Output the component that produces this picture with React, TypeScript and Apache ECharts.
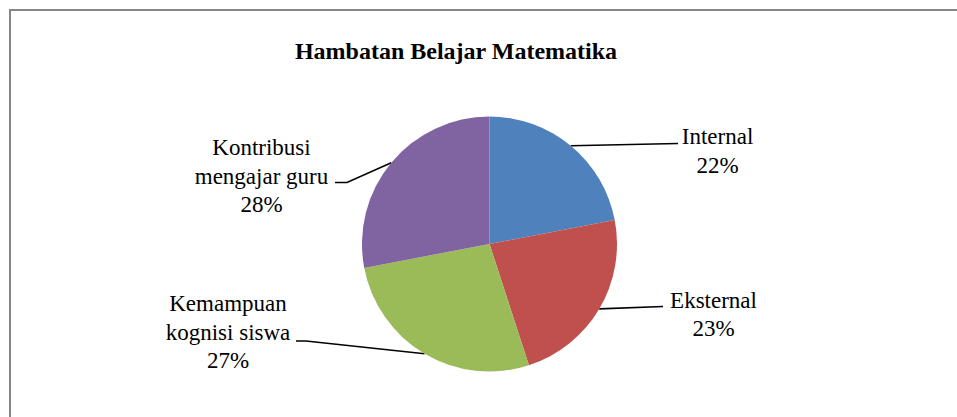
import React, { useEffect, useRef } from "react";
import * as echarts from "echarts";

const titleText = "Hambatan Belajar Matematika";
const categories = [
  "Internal",
  "Eksternal",
  "Kemampuan\nkognisi siswa",
  "Kontribusi\nmengajar guru",
];
const values = [22, 23, 27, 28];
const colors = ["#4F81BD", "#C0504D", "#9BBB59", "#8064A2"];

// label placement (layout only): text block centre, and leader line end / bend x
const labelCenters = [
  [717.5, 151],
  [713.5, 314.5],
  [228, 332],
  [261.5, 176],
];
const leaderEnds = [
  [678, 143.5, 678],
  [663, 306.5, 663],
  [296, 341, 306],
  [335, 182.5, 347],
];

const FONT = "Liberation Serif";

export default function App() {
  const ref = useRef<HTMLDivElement>(null);
  useEffect(() => {
    if (!ref.current) return;
    const chart = echarts.init(ref.current, undefined, { renderer: "svg" });
    chart.setOption({
      animation: false,
      backgroundColor: "#ffffff",
      textStyle: { fontFamily: FONT },
      title: {
        text: titleText,
        left: 451,
        top: 34,
        textAlign: "center",
        textStyle: {
          fontFamily: FONT,
          fontSize: 24,
          fontWeight: "bold",
          color: "#000000",
        },
      },
      graphic: [
        {
          type: "rect",
          shape: { x: 10, y: 10, width: 1200, height: 1000 },
          style: { fill: "none", stroke: "#868686", lineWidth: 2 },
          silent: true,
        },
      ],
      series: [
        {
          type: "pie",
          center: [489.5, 244],
          radius: 127.5,
          startAngle: 90,
          clockwise: true,
          avoidLabelOverlap: false,
          percentPrecision: 0,
          itemStyle: { borderWidth: 0 },
          label: {
            show: true,
            position: "outside",
            formatter: "{b}\n{d}%",
            fontFamily: FONT,
            fontSize: 23,
            lineHeight: 28.4,
            color: "#000000",
            align: "center",
          },
          labelLine: {
            show: true,
            length: 10,
            length2: 10,
            lineStyle: { color: "#000000", width: 1.6 },
          },
          labelLayout: (params: any) => {
            const i = params.dataIndex;
            const c = labelCenters[i];
            const e = leaderEnds[i];
            const pts = params.labelLinePoints;
            const start = pts && pts[0] ? pts[0] : [e[2], e[1]];
            return {
              x: c[0],
              y: c[1],
              align: "center",
              verticalAlign: "middle",
              labelLinePoints: [
                [start[0], start[1]],
                [e[2], e[1]],
                [e[0], e[1]],
              ],
            };
          },
          data: categories.map((name, i) => ({
            name,
            value: values[i],
            itemStyle: { color: colors[i] },
          })),
        },
      ],
    });
    return () => chart.dispose();
  }, []);
  return (
    <div
      ref={ref}
      style={{ position: "fixed", left: 0, top: 0, width: 957, height: 417, background: "#fff" }}
    />
  );
}
